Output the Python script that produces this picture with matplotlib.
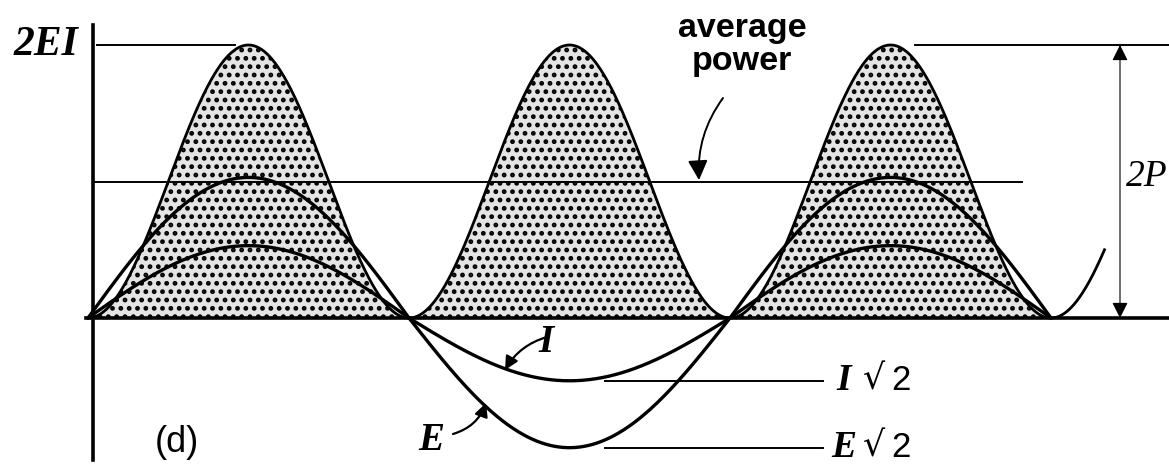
import numpy as np
import matplotlib
matplotlib.use('Agg')
import matplotlib.pyplot as plt

# ---- data ----
half_cycle_starts_deg = [0, 180, 360]      # starts of E/I half cycles
E_half_peaks = [1.03, -0.95, 1.03]          # voltage half-cycle peaks
I_half_peaks = [0.53, -0.46, 0.53]          # current half-cycle peaks
power_peak = 2.0                            # 2EI
average_power = 1.0                         # P
power_end_deg = 570
shade_end_deg = 540

plt.rcParams['hatch.color'] = 'black'
plt.rcParams['hatch.linewidth'] = 2.2

fig = plt.figure(figsize=(11.69, 4.66), dpi=100)
ax = fig.add_axes([0, 0, 1, 1])
X0, Y0 = 88, 318
PX_PER_DEG = 321 / 180.0
PX_PER_UNIT = 136.5
ax.set_xlim(-X0 / PX_PER_DEG, (1169 - X0) / PX_PER_DEG)
ax.set_ylim(-(466 - Y0) / PX_PER_UNIT, Y0 / PX_PER_UNIT)
ax.axis('off')


def X(px):
    return (px - X0) / PX_PER_DEG


def Y(py):
    return (Y0 - py) / PX_PER_UNIT


# power curve
th = np.linspace(0, power_end_deg, 1200)
p = power_peak * np.sin(np.radians(th)) ** 2
mask = th <= shade_end_deg
ax.fill_between(th[mask], 0, p[mask], facecolor='#e4e4e4', edgecolor='black',
                linewidth=0, hatch='..', zorder=1)
ax.plot(th, p, color='black', lw=2.0, zorder=3)

# E and I half cycles
for start, ep, ip in zip(half_cycle_starts_deg, E_half_peaks, I_half_peaks):
    t = np.linspace(start, start + 180, 300)
    s = np.sin(np.radians(t - start))
    ax.plot(t, ep * s, color='black', lw=2.4, zorder=4, solid_capstyle='round')
    ax.plot(t, ip * s, color='black', lw=2.4, zorder=4, solid_capstyle='round')

# axes
ax.plot([X(93), X(93)], [Y(25), Y(460)], color='black', lw=2.6, zorder=5)
ax.plot([X(86), X(1169)], [0, 0], color='black', lw=2.6, zorder=5)

# reference lines
ax.plot([X(97), X(235)], [power_peak, power_peak], color='black', lw=1.4)
ax.plot([X(915), X(1169)], [power_peak, power_peak], color='black', lw=1.4)
ax.plot([X(93), X(1022)], [average_power, average_power], color='black', lw=1.4, zorder=2)
ax.plot([X(605), X(823)], [I_half_peaks[1], I_half_peaks[1]], color='black', lw=1.4)
ax.plot([X(605), X(823)], [E_half_peaks[1], E_half_peaks[1]], color='black', lw=1.4)

# 2P double arrow
ax.annotate('', xy=(X(1120), power_peak), xytext=(X(1120), 0),
            arrowprops=dict(arrowstyle='<|-|>', color='black', lw=0.8,
                            mutation_scale=24, shrinkA=0, shrinkB=0))

# text labels
ax.text(X(78), power_peak, '2EI', family='Liberation Serif', style='italic',
        weight='bold', fontsize=30, ha='right', va='center')
ax.text(X(742), Y(45), 'average\npower', family='Liberation Sans', weight='bold',
        fontsize=24.5, ha='center', va='center', linespacing=1.08)
ax.annotate('', xy=(X(699), average_power + 0.01), xytext=(X(723), Y(98)),
            arrowprops=dict(arrowstyle='-|>', color='black', lw=1.4,
                            mutation_scale=30, shrinkA=0, shrinkB=0,
                            connectionstyle='arc3,rad=0.18'))
ax.text(X(1168), Y(177), '2P', family='Liberation Serif', style='italic',
        fontsize=27, ha='right', va='center')

ax.text(X(538), Y(343), 'I', family='Liberation Serif', style='italic',
        weight='bold', fontsize=28, ha='left', va='center')
ax.annotate('', xy=(X(505), Y(370)), xytext=(X(547), Y(337)),
            arrowprops=dict(arrowstyle='-|>', color='black', lw=1.6,
                            mutation_scale=20, shrinkA=0, shrinkB=0,
                            connectionstyle='arc3,rad=0.2'))
ax.text(X(418), Y(440), 'E', family='Liberation Serif', style='italic',
        weight='bold', fontsize=28, ha='left', va='center')
ax.annotate('', xy=(X(486), Y(403)), xytext=(X(453), Y(434)),
            arrowprops=dict(arrowstyle='-|>', color='black', lw=1.6,
                            mutation_scale=20, shrinkA=0, shrinkB=0,
                            connectionstyle='arc3,rad=0.25'))

for lab, yv, xl in (('I', I_half_peaks[1], 836), ('E', E_half_peaks[1], 831)):
    ax.text(X(xl), yv, lab, family='Liberation Serif', style='italic',
            weight='bold', fontsize=27, ha='left', va='center')
    ax.text(X(863), yv + 0.01, '\u221a', family='DejaVu Serif',
            fontsize=25, ha='left', va='center')
    ax.text(X(891), yv, '2', family='Liberation Sans',
            fontsize=25, ha='left', va='center')

ax.text(X(155), Y(442), '(d)', family='Liberation Sans', fontsize=26,
        ha='left', va='center')

fig.savefig('out.png', dpi=100)
